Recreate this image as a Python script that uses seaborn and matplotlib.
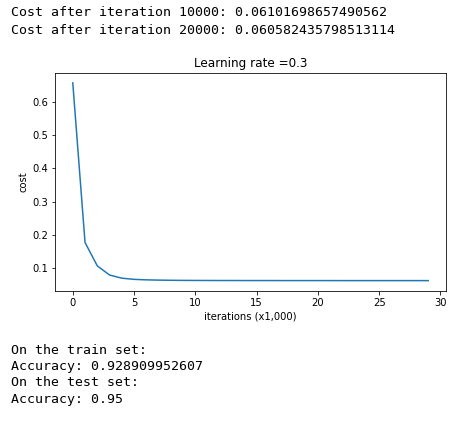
import numpy as np
import pandas as pd
import seaborn as sns
import matplotlib
matplotlib.use("Agg")
from matplotlib import pyplot as plt

iterations = list(range(30))
costs = [0.656, 0.177, 0.107, 0.0795, 0.0700, 0.0665, 0.0650, 0.0642, 0.0637, 0.0634,
         0.0632, 0.0631, 0.0630, 0.0630, 0.0629, 0.0629, 0.0629, 0.0628, 0.0628, 0.0628,
         0.0628, 0.0628, 0.0627, 0.0627, 0.0627, 0.0627, 0.0627, 0.0627, 0.0627, 0.0627]
learning_rate = 0.3

log_lines_top = ["Cost after iteration 10000: 0.06101698657490562",
                 "Cost after iteration 20000: 0.060582435798513114"]
log_lines_bottom = ["On the train set:",
                    "Accuracy: 0.928909952607",
                    "On the test set:",
                    "Accuracy: 0.95"]

df = pd.DataFrame({"iteration": iterations, "cost": costs})

W, H = 471, 427
fig = plt.figure(figsize=(W / 72, H / 72), dpi=72)
ax = fig.add_axes([55 / W, 1 - 290.5 / H, (446 - 55) / W, (290.5 - 73) / H])

sns.lineplot(data=df, x="iteration", y="cost", ax=ax, color="#1f77b4", linewidth=1.5)
ax.set_ylabel("cost")
ax.set_xlabel("iterations (x1,000)")
ax.set_title("Learning rate =" + str(learning_rate), fontsize=12)
ax.set_xticks([0, 5, 10, 15, 20, 25, 30])
ax.set_yticks([0.1, 0.2, 0.3, 0.4, 0.5, 0.6])

mono = dict(family="DejaVu Sans Mono", fontsize=13.2, va="center", ha="left")
for i, line in enumerate(log_lines_top):
    fig.text(11 / W, 1 - (13 + 17 * i) / H, line, **mono)
for i, line in enumerate(log_lines_bottom):
    fig.text(11 / W, 1 - (350 + 16.5 * i) / H, line, **mono)

fig.savefig("out.png", dpi=72)
